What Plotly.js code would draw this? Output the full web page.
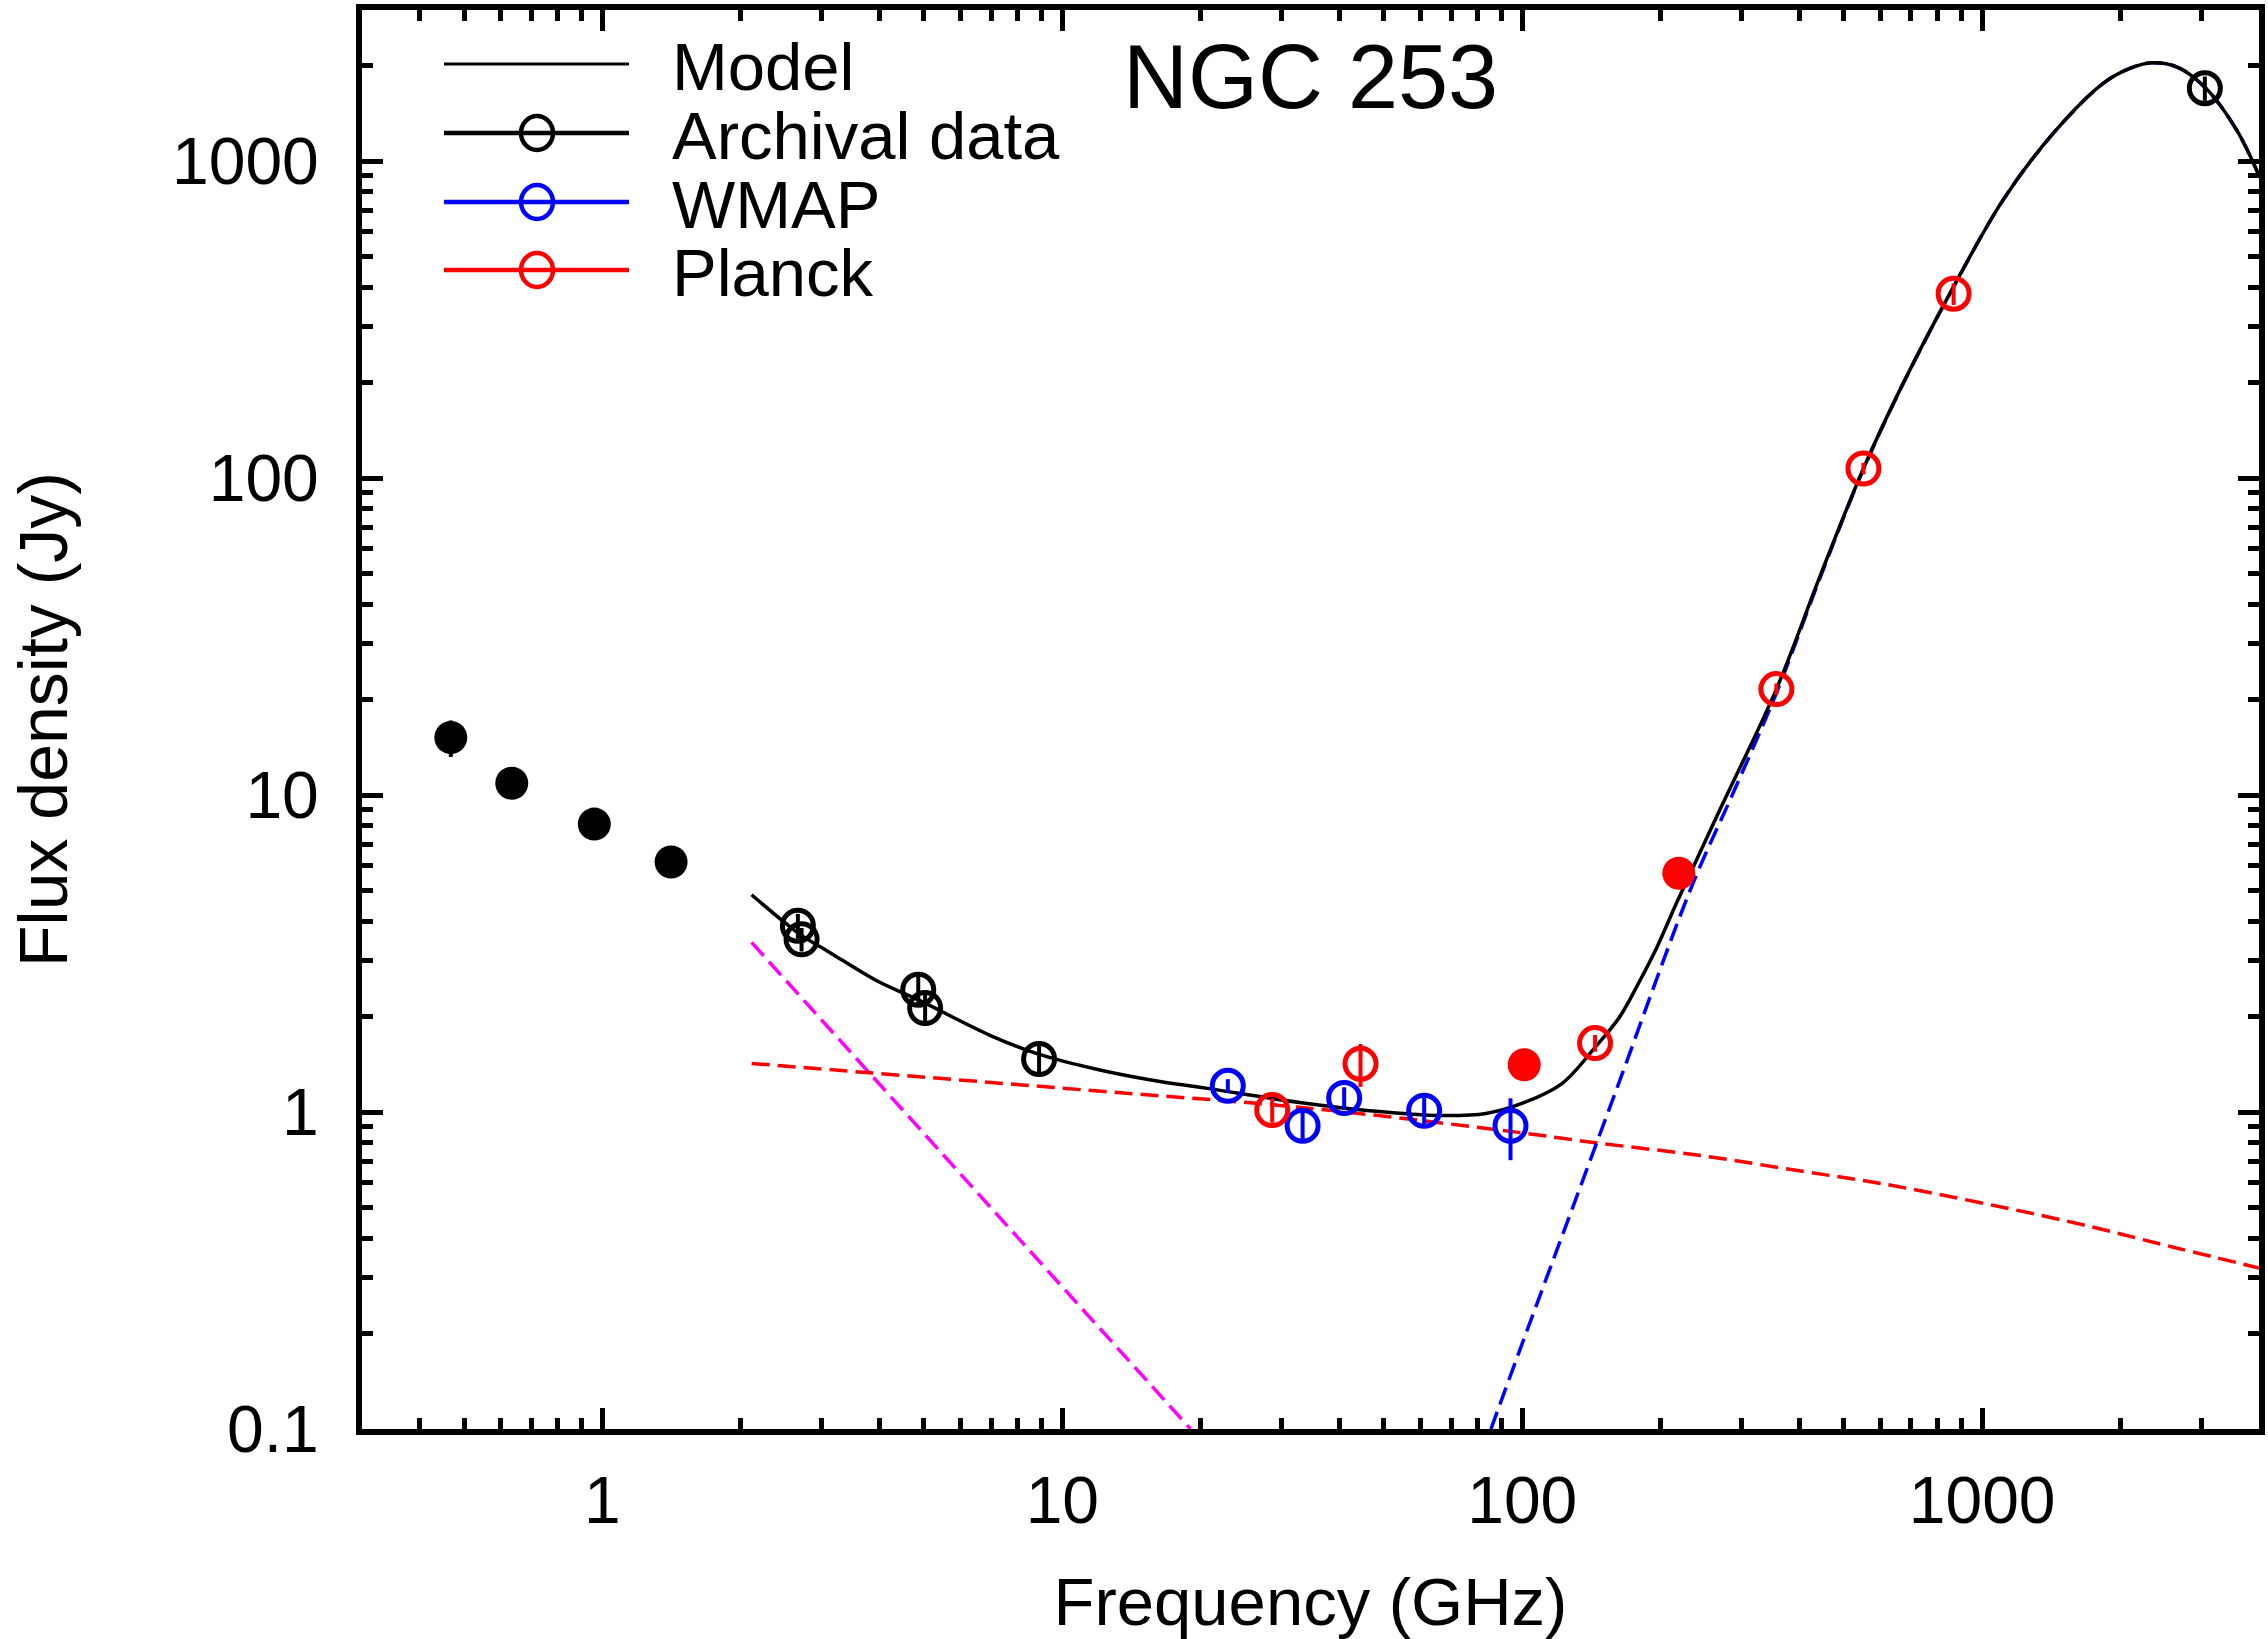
<!DOCTYPE html>
<html>
<head>
<meta charset="utf-8">
<script src="https://cdn.plot.ly/plotly-3.0.1.min.js"></script>
<style>html,body{margin:0;padding:0;background:#fff;}#chart{width:2268px;height:1639px;}</style>
</head>
<body>
<div id="chart"></div>
<script>
// ---------------- data ----------------
// Model (sum of components), GHz / Jy
const modelFreq = [2.11, 2.68, 3.12, 3.94, 4.89, 7.0, 8.91, 12.0, 15.7, 20.5, 33.1, 46.6, 66.6, 83.4, 100.8, 122, 144, 163, 179, 197, 217, 272, 357, 444, 552, 672, 857, 1110, 1427, 1833, 2095, 2336, 2648, 3053, 3578, 4010];
const modelFlux = [4.85, 3.65, 3.19, 2.60, 2.25, 1.74, 1.52, 1.36, 1.26, 1.19, 1.07, 1.01, 0.975, 0.99, 1.07, 1.23, 1.60, 2.0, 2.55, 3.35, 4.6, 9.3, 21.6, 49, 107.3, 198, 390, 754, 1224, 1761, 1963, 2045, 1986, 1710, 1253, 893];

// Synchrotron component (magenta dashed)
const synchFreq = [2.11, 19.0];
const synchFlux = [3.43, 0.1];

// Free-free component (red dashed)
const ffFreq = [2.11, 12.15, 33.1, 94.3, 142.6, 246, 407, 611, 1517, 2617, 4000];
const ffFlux = [1.424, 1.163, 1.034, 0.869, 0.802, 0.728, 0.650, 0.593, 0.454, 0.374, 0.322];

// Dust component (blue dashed; above ~350 GHz it lies under the model curve)
const dustFreq = [85.5, 98.6, 157, 234, 287, 357, 444, 552, 672, 857, 1110, 1427, 1833, 2095, 2336, 2648, 3053, 3578, 4010];
const dustFlux = [0.1, 0.176, 1.086, 5.18, 10.1, 21.0, 48.4, 106.7, 197.4, 389.4, 753.5, 1223.5, 1760.6, 1962.6, 2044.6, 1985.6, 1709.6, 1252.6, 892.7];

// Archival data (open and filled)
const archOpenFreq = [2.66, 2.71, 4.86, 5.03, 8.9, 3050];
const archOpenFlux = [3.87, 3.51, 2.43, 2.13, 1.47, 1700];
const archOpenErr  = [0.35, 0.30, 0.28, 0.25, 0.17, 150];
const archFillFreq = [0.468, 0.635, 0.96, 1.41];
const archFillFlux = [15.2, 10.9, 8.1, 6.15];
const archFillErr  = [2.0, 0.6, 0.4, 0.3];

// WMAP
const wmapFreq = [22.9, 33.3, 41.0, 61.2, 94.3];
const wmapFlux = [1.21, 0.905, 1.107, 1.01, 0.905];
const wmapErr  = [0.06, 0.10, 0.09, 0.10, 0.20];

// Planck (open and filled)
const planckOpenFreq = [28.6, 44.5, 144, 357, 552, 867];
const planckOpenFlux = [1.015, 1.42, 1.65, 21.6, 107.3, 382];
const planckOpenErr  = [0.09, 0.22, 0.10, 0.9, 4.5, 30];
const planckFillFreq = [101, 219];
const planckFillFlux = [1.41, 5.67];

// Axis ticks
const xTickVals = [1, 10, 100, 1000];
const xTickText = ['1', '10', '100', '1000'];
const yTickVals = [0.1, 1, 10, 100, 1000];
const yTickText = ['0.1', '1', '10', '100', '1000'];

// Legend entries
const legendNames = ['Model', 'Archival data', 'WMAP', 'Planck'];
const legendColors = ['#000000', '#000000', '#0000ff', '#ff0000'];

// ---------------- layout geometry ----------------
const W = 2268, H = 1639;
const M = {l: 362, r: 9, t: 10, b: 210};
const PW = W - M.l - M.r, PH = H - M.t - M.b;
const px = X => (X - M.l) / PW;
const py = Y => (H - M.b - Y) / PH;

function minorVals(lo, hi) {
  const v = [];
  for (let e = Math.floor(Math.log10(lo)); e <= Math.ceil(Math.log10(hi)); e++) {
    for (let d = 2; d <= 9; d++) {
      const t = d * Math.pow(10, e);
      if (t >= lo * 0.999 && t <= hi * 1.001) v.push(t);
    }
  }
  return v;
}

const FONT = 'Liberation Sans, Arial, Helvetica, sans-serif';
const dash = '18px,8px';

const traces = [
  {x: synchFreq, y: synchFlux, mode: 'lines', line: {color: '#ff00ff', width: 3.5, dash: dash}, showlegend: false},
  {x: ffFreq, y: ffFlux, mode: 'lines', line: {color: '#ff0000', width: 3.5, dash: dash, shape: 'spline', smoothing: 1}, showlegend: false},
  {x: dustFreq, y: dustFlux, mode: 'lines', line: {color: '#0000ff', width: 3.5, dash: dash, shape: 'spline', smoothing: 1}, showlegend: false},
  {x: modelFreq, y: modelFlux, mode: 'lines', name: 'Model', line: {color: '#000000', width: 3.5, shape: 'spline', smoothing: 1}, showlegend: false},
  {x: archFillFreq, y: archFillFlux, mode: 'markers', name: 'Archival data',
   marker: {symbol: 'circle', size: 33, color: '#000000'},
   error_y: {type: 'data', array: archFillErr, color: '#000000', thickness: 4, width: 0}, showlegend: false},
  {x: archOpenFreq, y: archOpenFlux, mode: 'markers', name: 'Archival data',
   marker: {symbol: 'circle-open', size: 31, color: '#000000', line: {width: 5, color: '#000000'}},
   error_y: {type: 'data', array: archOpenErr, color: '#000000', thickness: 4, width: 0}, showlegend: false},
  {x: wmapFreq, y: wmapFlux, mode: 'markers', name: 'WMAP',
   marker: {symbol: 'circle-open', size: 31, color: '#0000ff', line: {width: 5, color: '#0000ff'}},
   error_y: {type: 'data', array: wmapErr, color: '#0000ff', thickness: 4, width: 0}, showlegend: false},
  {x: planckFillFreq, y: planckFillFlux, mode: 'markers', name: 'Planck',
   marker: {symbol: 'circle', size: 33, color: '#ff0000'}, showlegend: false},
  {x: planckOpenFreq, y: planckOpenFlux, mode: 'markers', name: 'Planck',
   marker: {symbol: 'circle-open', size: 31, color: '#ff0000', line: {width: 5, color: '#ff0000'}},
   error_y: {type: 'data', array: planckOpenErr, color: '#ff0000', thickness: 4, width: 0}, showlegend: false}
];

// manual legend (long sample lines, as in the original)
const rowY = [64, 133, 202, 270];
const shapes = [], annotations = [];
legendNames.forEach((name, i) => {
  shapes.push({type: 'line', xref: 'paper', yref: 'paper', x0: px(444), x1: px(629), y0: py(rowY[i]), y1: py(rowY[i]),
               line: {color: legendColors[i], width: i === 0 ? 3 : 4.5}});
  if (i > 0) {
    shapes.push({type: 'circle', xref: 'paper', yref: 'paper', xsizemode: 'pixel', ysizemode: 'pixel',
                 xanchor: px(537), yanchor: py(rowY[i]), x0: -16, x1: 16, y0: -17, y1: 17,
                 line: {color: legendColors[i], width: 4.5}, fillcolor: 'rgba(0,0,0,0)'});
  }
  annotations.push({xref: 'paper', yref: 'paper', x: px(670), y: py(rowY[i] + 2), xanchor: 'left', yanchor: 'middle',
                    text: name, showarrow: false, font: {family: FONT, size: 67, color: '#000000'}});
});

const axisCommon = {
  type: 'log', showgrid: false, zeroline: false,
  showline: true, linewidth: 6, linecolor: '#000000', mirror: 'allticks',
  ticks: 'inside', ticklen: 21, tickwidth: 5, tickcolor: '#000000',
  tickfont: {family: FONT, size: 66, color: '#000000'},
  automargin: false
};

const layout = {
  width: W, height: H,
  margin: M,
  paper_bgcolor: '#ffffff', plot_bgcolor: '#ffffff',
  showlegend: false,
  font: {family: FONT, color: '#000000'},
  title: {text: 'NGC 253', font: {family: FONT, size: 90, color: '#000000'},
          xref: 'paper', x: 0.5, xanchor: 'center', yref: 'container', y: 1 - 45 / H, yanchor: 'top'},
  xaxis: Object.assign({}, axisCommon, {
    range: [Math.log10(0.3), Math.log10(4000)],
    tickmode: 'array', tickvals: xTickVals, ticktext: xTickText,
    ticklabelstandoff: 9,
    minor: {tickmode: 'array', tickvals: minorVals(0.3, 4000), ticks: 'inside', ticklen: 11, tickwidth: 5, tickcolor: '#000000', showgrid: false},
    title: {text: 'Frequency (GHz)', font: {family: FONT, size: 67, color: '#000000'}, standoff: 45}
  }),
  yaxis: Object.assign({}, axisCommon, {
    range: [-1, Math.log10(3000)],
    tickmode: 'array', tickvals: yTickVals, ticktext: yTickText,
    ticklabelstandoff: 24,
    minor: {tickmode: 'array', tickvals: minorVals(0.1, 3000), ticks: 'inside', ticklen: 11, tickwidth: 5, tickcolor: '#000000', showgrid: false},
    title: {text: 'Flux density (Jy)', font: {family: FONT, size: 68, color: '#000000'}, standoff: 84}
  }),
  shapes: shapes,
  annotations: annotations
};

Plotly.newPlot('chart', traces, layout, {staticPlot: true, displayModeBar: false});
</script>
</body>
</html>
